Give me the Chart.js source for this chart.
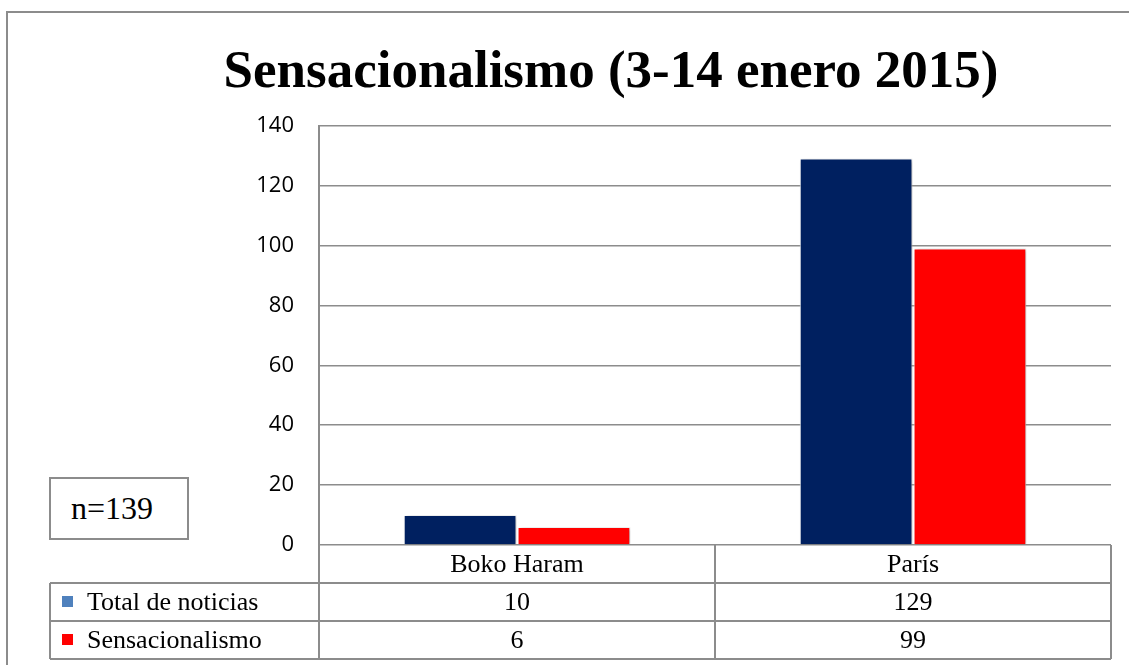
<!DOCTYPE html>
<html lang="es">
<head>
<meta charset="utf-8">
<script src="https://cdn.jsdelivr.net/npm/chart.js@4"></script>
<style>
  html, body { margin: 0; padding: 0; background: #fff; overflow: hidden; }
  #wrap { position: absolute; left: 0; top: 0; width: 1129px; height: 665px; }
  #frame { position: absolute; left: 6px; top: 11px; width: 1200px; height: 700px;
           border: 2px solid #8c8c8c; box-sizing: border-box; pointer-events: none; }
  #nbox { position: absolute; left: 49px; top: 477px; width: 140px; height: 63px;
          border: 2px solid #8c8c8c; box-sizing: border-box; background: #fff;
          font: 32px "Liberation Serif", "Times New Roman", serif; color: #000;
          line-height: 59px; padding-left: 20px; }
</style>
</head>
<body>
<div id="wrap"><canvas id="sensChart"></canvas></div>
<div id="frame"></div>
<div id="nbox"></div>
<script>
const categories = ['Boko Haram', 'París'];
const totalNoticias = [10, 129];
const sensacionalismo = [6, 99];
const seriesNames = ['Total de noticias', 'Sensacionalismo'];
const yTicks = [0, 20, 40, 60, 80, 100, 120, 140];
const nLabel = 'n=139';

document.getElementById('nbox').textContent = nLabel;

const gridColor = '#8c8c8c';
const keyColors = ['#4F81BD', '#FF0000']; // colores de la leyenda en la tabla

// Sombra ligera de las barras
const barShadow = {
    id: 'barShadow',
    beforeDatasetsDraw(chart) {
        const c = chart.ctx;
        c.save();
        c.shadowColor = 'rgba(0,0,0,0.3)';
        c.shadowBlur = 4;
        c.shadowOffsetX = 2;
        c.shadowOffsetY = 1;
    },
    afterDatasetsDraw(chart) {
        chart.ctx.restore();
    }
};

// Tabla de datos bajo el eje
const dataTable = {
    id: 'dataTable',
    afterDraw(chart) {
        const c = chart.ctx;
        const area = chart.chartArea;
        const xs = chart.scales.x;
        const rowH = 38;
        const keyLeft = area.left - 269;
        const colW = area.width / categories.length;
        const top = area.bottom;
        const bottom = top + rowH * 3;

        c.save();
        c.strokeStyle = gridColor;
        c.lineWidth = 2;
        c.beginPath();
        // líneas horizontales
        for (let r = 1; r <= 3; r++) {
            c.moveTo(keyLeft, top + rowH * r);
            c.lineTo(area.right, top + rowH * r);
        }
        // líneas verticales
        c.moveTo(keyLeft, top + rowH);
        c.lineTo(keyLeft, bottom);
        c.moveTo(area.left, top);
        c.lineTo(area.left, bottom);
        for (let i = 0; i < categories.length; i++) {
            const xr = xs.getPixelForValue(i) + colW / 2;
            c.moveTo(xr, top);
            c.lineTo(xr, bottom);
        }
        c.stroke();

        c.fillStyle = '#000';
        c.font = '26px "Liberation Serif", "Times New Roman", serif';
        c.textBaseline = 'middle';
        c.textAlign = 'center';
        categories.forEach((cat, i) => {
            c.fillText(cat, xs.getPixelForValue(i), top + rowH / 2 + 1);
        });
        const rows = [totalNoticias, sensacionalismo];
        rows.forEach((vals, r) => {
            const yMid = top + rowH * (r + 1) + rowH / 2 + 1;
            c.textAlign = 'center';
            c.fillStyle = '#000';
            vals.forEach((v, i) => c.fillText(String(v), xs.getPixelForValue(i), yMid));
            c.fillStyle = keyColors[r];
            c.fillRect(keyLeft + 12, yMid - 7, 11, 11);
            c.fillStyle = '#000';
            c.textAlign = 'left';
            c.fillText(seriesNames[r], keyLeft + 37, yMid);
        });
        c.restore();
    }
};

const ctx = document.getElementById('sensChart').getContext('2d');
const sensChart = new Chart(ctx, {
    type: 'bar',
    data: {
        labels: categories,
        datasets: [{
            label: seriesNames[0],
            data: totalNoticias,
            backgroundColor: '#002060',
            borderColor: '#ffffff',
            borderWidth: 1
        },
        {
            label: seriesNames[1],
            data: sensacionalismo,
            backgroundColor: '#FF0000',
            borderColor: '#ffffff',
            borderWidth: 1
        }]
    },
    options: {
        responsive: true,
        maintainAspectRatio: false,
        animation: false,
        datasets: {
            bar: { categoryPercentage: 0.575, barPercentage: 0.99 }
        },
        layout: {
            padding: { left: 111, right: 18, top: 0, bottom: 120 }
        },
        plugins: {
            legend: { display: false },
            tooltip: { enabled: false },
            title: {
                display: true,
                text: 'Sensacionalismo (3-14 enero 2015)',
                color: '#000',
                font: { family: '"Liberation Serif", "Times New Roman", serif', size: 53, weight: 'bold', lineHeight: 1.2 },
                padding: { top: 42, bottom: 20 }
            }
        },
        scales: {
            x: {
                display: false
            },
            y: {
                min: 0,
                max: 140,
                afterFit: s => { s.width = 208; },
                afterBuildTicks: s => { s.ticks = yTicks.map(v => ({ value: v })); },
                grid: { color: gridColor, lineWidth: 1.5, drawTicks: false },
                border: { display: true, color: gridColor, width: 2 },
                ticks: {
                    padding: 25,
                    color: '#000',
                    font: { family: '"Open Sans", "Liberation Sans", sans-serif', size: 22 }
                }
            }
        }
    },
    plugins: [barShadow, dataTable]
});
</script>
</body>
</html>
